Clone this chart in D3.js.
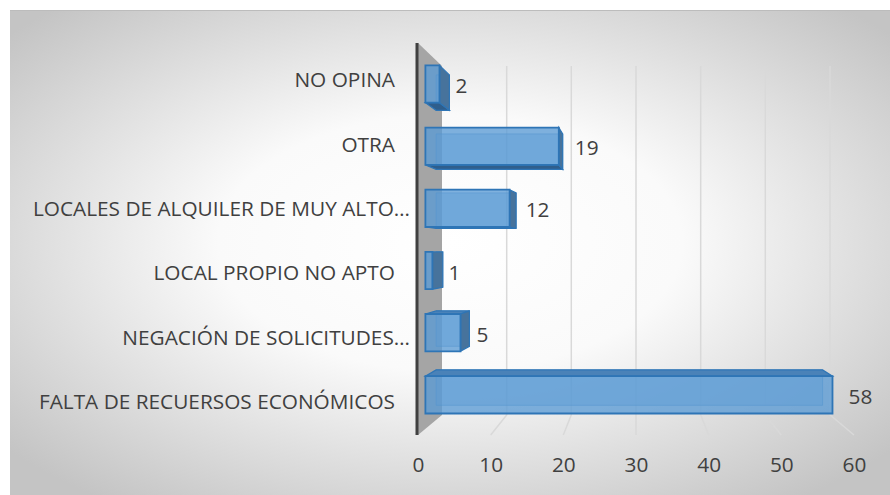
<!DOCTYPE html>
<html>
<head>
<meta charset="utf-8">
<script src="https://cdn.jsdelivr.net/npm/d3@7"></script>
<style>
  body { margin: 0; background: #fff; }
  text { font-family: "Open Sans", sans-serif; fill: #404040; }
</style>
</head>
<body>
<div id="chart"></div>
<script>
// data (top to bottom)
var categories = ["NO OPINA", "OTRA", "LOCALES DE ALQUILER DE MUY ALTO…", "LOCAL PROPIO NO APTO", "NEGACIÓN DE SOLICITUDES…", "FALTA DE RECUERSOS ECONÓMICOS"];
var values = [2, 19, 12, 1, 5, 58];
var xTicks = [0, 10, 20, 30, 40, 50, 60];

var width = 890, height = 495;
var fontSize = "20.8px";

var svg = d3.select("#chart").append("svg")
	.attr("width", width)
	.attr("height", height);

// background gradient
var defs = svg.append("defs");
var grad = defs.append("radialGradient")
	.attr("id", "bg")
	.attr("cx", "50%").attr("cy", "48%").attr("r", "66%");
grad.append("stop").attr("offset", "0%").attr("stop-color", "#ffffff");
grad.append("stop").attr("offset", "40%").attr("stop-color", "#fafafa");
grad.append("stop").attr("offset", "100%").attr("stop-color", "#c4c4c4");

svg.append("rect")
	.attr("x", 10).attr("y", 10)
	.attr("width", width - 10).attr("height", height - 10)
	.attr("fill", "url(#bg)");
svg.append("line")
	.attr("x1", 10).attr("x2", width).attr("y1", 10.5).attr("y2", 10.5)
	.attr("stroke", "#bcbcbc").attr("stroke-width", 1);

// scales on the front plane
var x = d3.scaleLinear()
	.domain([0, 60])
	.range([418, 854]);

var y = d3.scaleBand()
	.domain(categories)
	.range([46, 432])
	.paddingInner(0.4)
	.paddingOuter(0.2);

// simple perspective: s = depth scale toward vanishing point
var cx = x(30), cy = 252;
var sWall = 0.89, sFront = 0.966, sBack = 0.917;
var wallTop = 43, wallBottom = 435;

function proj(x0, y0, s) {
	return [cx + (x0 - cx) * s, cy + (y0 - cy) * s];
}
function poly(pts) {
	return pts.map(function (p) { return p[0].toFixed(1) + "," + p[1].toFixed(1); }).join(" ");
}

// gridlines: back wall + floor
var grid = svg.append("g").attr("class", "grid");
xTicks.filter(function (d) { return d > 0; }).forEach(function (t) {
	var bt = proj(x(t), wallTop, sWall);
	var bb = proj(x(t), wallBottom, sWall);
	grid.append("polyline")
		.attr("points", poly([bt, bb, [x(t), wallBottom]]))
		.attr("fill", "none")
		.attr("stroke", "#d9d9d9")
		.attr("stroke-width", 1.5);
});

// side wall (grey)
var wt = proj(x(0), wallTop, sWall), wb = proj(x(0), wallBottom, sWall);
svg.append("polygon")
	.attr("points", poly([[x(0), wallTop], wt, wb, [x(0), wallBottom]]))
	.attr("fill", "#a5a5a5");

svg.append("line")
	.attr("x1", x(0) - 1).attr("x2", x(0) - 1)
	.attr("y1", wallTop).attr("y2", wallBottom)
	.attr("stroke", "#404040")
	.attr("stroke-width", 3);

// bars
var bars = svg.append("g").attr("class", "bars");
categories.forEach(function (c, i) {
	var v = values[i];
	var xl = x(0), xr = x(v), yt = y(c), yb = y(c) + y.bandwidth();
	var F = [proj(xl, yt, sFront), proj(xr, yt, sFront), proj(xr, yb, sFront), proj(xl, yb, sFront)];
	var B = [proj(xl, yt, sBack), proj(xr, yt, sBack), proj(xr, yb, sBack), proj(xl, yb, sBack)];
	var g = bars.append("g");

	// back face (seen through)
	g.append("polygon").attr("points", poly(B))
		.attr("fill", "#5b9bd5").attr("fill-opacity", 0.4)
		.attr("stroke", "#2e75b6").attr("stroke-width", 1).attr("stroke-opacity", 0.5);
	// top or bottom
	if (yt > cy) {
		g.append("polygon").attr("points", poly([F[0], F[1], B[1], B[0]]))
			.attr("fill", "#4a82b8").attr("stroke", "#2e75b6").attr("stroke-width", 1.2);
	}
	if (yb < cy) {
		g.append("polygon").attr("points", poly([F[3], F[2], B[2], B[3]]))
			.attr("fill", "#2f5e8c").attr("stroke", "#2e75b6").attr("stroke-width", 1.2);
	}
	// right side
	if (xr < cx) {
		g.append("polygon").attr("points", poly([F[1], B[1], B[2], F[2]]))
			.attr("fill", "#47739c").attr("stroke", "#2e75b6").attr("stroke-width", 1.2);
	}
	// front face
	g.append("polygon").attr("points", poly(F))
		.attr("fill", "#5b9bd5").attr("fill-opacity", 0.78)
		.attr("stroke", "#2e75b6").attr("stroke-width", 1.8);

	// value label
	svg.append("text")
		.attr("x", F[1][0] + 16)
		.attr("y", (F[0][1] + F[3][1]) / 2 + 1)
		.attr("dominant-baseline", "central")
		.style("font-size", fontSize)
		.text(v);
});

// category labels
svg.append("g").selectAll("text")
	.data(categories)
	.enter()
	.append("text")
	.attr("x", function (d) { return d.slice(-1) === "…" ? 410 : 395; })
	.attr("y", function (d) { return y(d) + y.bandwidth() / 2 + 1; })
	.attr("text-anchor", "end")
	.attr("dominant-baseline", "central")
	.style("font-size", fontSize)
	.text(function (d) { return d; });

// value axis labels
var xAxis = d3.axisBottom(x)
	.tickValues(xTicks)
	.tickSize(0)
	.tickPadding(0);

var ax = svg.append("g")
	.attr("class", "x-axis")
	.attr("transform", "translate(0,457)")
	.call(xAxis);
ax.select(".domain").remove();
ax.selectAll("text")
	.style("font-size", fontSize)
	.style("font-family", "'Open Sans', sans-serif")
	.attr("fill", "#404040");
</script>
</body>
</html>
